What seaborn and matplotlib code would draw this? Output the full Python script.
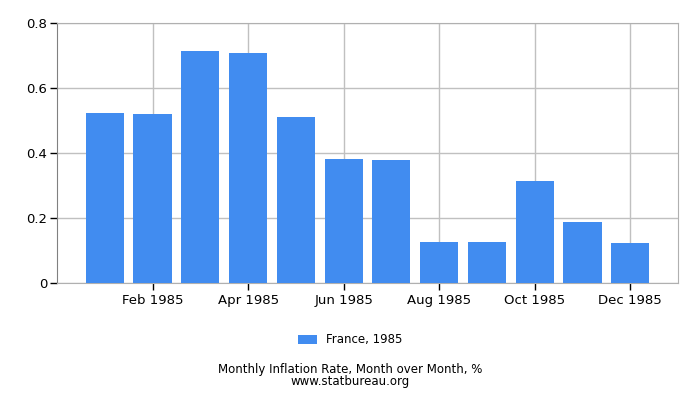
import pandas as pd
import matplotlib
matplotlib.use("Agg")
import matplotlib.pyplot as plt
import seaborn as sns

months = ["Jan 1985", "Feb 1985", "Mar 1985", "Apr 1985", "May 1985", "Jun 1985",
          "Jul 1985", "Aug 1985", "Sep 1985", "Oct 1985", "Nov 1985", "Dec 1985"]
rates = [0.523, 0.520, 0.714, 0.707, 0.511, 0.381,
         0.378, 0.126, 0.126, 0.314, 0.188, 0.123]
series_name = "France, 1985"
shown_ticks = ["Feb 1985", "Apr 1985", "Jun 1985", "Aug 1985", "Oct 1985", "Dec 1985"]

df = pd.DataFrame({"month": months, "rate": rates, "series": series_name})

sns.set_style("white")
plt.rcParams["font.family"] = ["DejaVu Sans"]
plt.rcParams["text.color"] = "#000000"
plt.rcParams["xtick.color"] = "#000000"
plt.rcParams["ytick.color"] = "#000000"

fig = plt.figure(figsize=(7, 4), dpi=100)
ax = fig.add_axes([0.0814, 0.2925, 0.8872, 0.65])

sns.barplot(data=df, x="month", y="rate", hue="series", palette=["#418cf0"],
            width=0.8, saturation=1, linewidth=0, ax=ax, legend=True, zorder=3)

ax.set_xlim(-1, 12)
ax.set_ylim(0, 0.8)
ax.set_yticks([0, 0.2, 0.4, 0.6, 0.8])
ax.set_yticklabels(["0", "0.2", "0.4", "0.6", "0.8"], fontsize=9.5)
tick_pos = [months.index(m) for m in shown_ticks]
ax.set_xticks(tick_pos)
ax.set_xticklabels(shown_ticks, fontsize=9.5)
ax.set_xlabel("")
ax.set_ylabel("")

ax.grid(True, color="#c0c0c0", linewidth=1, zorder=0)
ax.set_axisbelow(True)
for side in ["top", "right", "bottom"]:
    ax.spines[side].set_color("#b0b0b0")
ax.spines["left"].set_color("#808080")
ax.tick_params(axis="both", direction="out", length=5, color="#000000", width=1,
               bottom=True, left=True)
ax.tick_params(axis="y", pad=2)
ax.tick_params(axis="x", pad=3)

handles, labels = ax.get_legend_handles_labels()
ax.get_legend().remove()
fig.legend(handles, labels, loc="center", bbox_to_anchor=(0.5, 0.15), frameon=False,
           fontsize=8.5, handlelength=1.6, handleheight=0.7)

fig.text(0.5, 0.075, "Monthly Inflation Rate, Month over Month, %", ha="center",
         va="center", fontsize=8.5)
fig.text(0.5, 0.046, "www.statbureau.org", ha="center", va="center", fontsize=8.5)

fig.savefig("out.png", dpi=100)
